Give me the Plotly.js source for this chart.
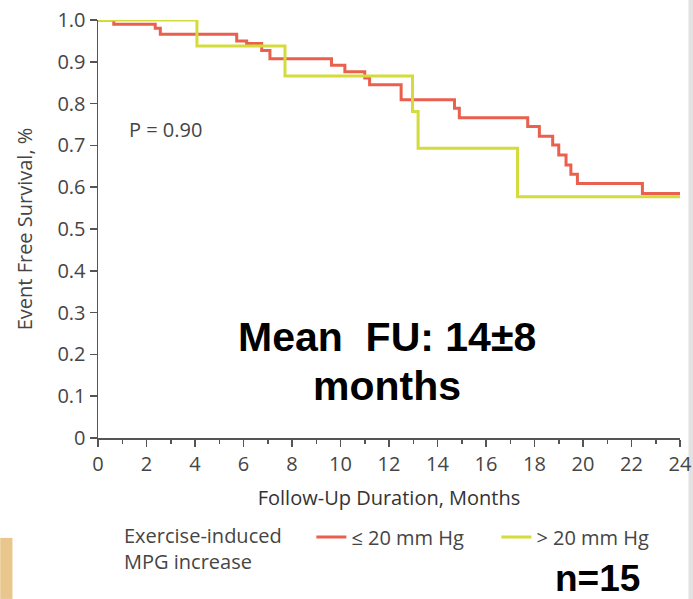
<!DOCTYPE html>
<html>
<head>
<meta charset="utf-8">
<script src="https://cdn.plot.ly/plotly-3.0.1.min.js"></script>
<style>html,body{margin:0;padding:0;background:#fff;}#chart{width:693px;height:599px;}</style>
</head>
<body>
<div id="chart"></div>
<script>
// Kaplan-Meier steps, group <= 20 mm Hg
const lowMonths = [0, 0.65, 2.36, 2.57, 5.72, 6.13, 6.75, 7.09, 9.63, 10.18, 11.0, 11.2, 12.5, 14.7, 14.9, 17.72, 18.2, 18.75, 19.0, 19.3, 19.5, 19.77, 22.45, 24];
const lowSurvival = [1.0, 0.99, 0.98, 0.966, 0.95, 0.944, 0.927, 0.907, 0.892, 0.876, 0.861, 0.845, 0.809, 0.789, 0.766, 0.745, 0.722, 0.701, 0.677, 0.653, 0.631, 0.609, 0.585, 0.585];
// group > 20 mm Hg
const highMonths = [0, 4.08, 7.71, 12.97, 13.2, 17.3, 24];
const highSurvival = [1.0, 0.938, 0.866, 0.781, 0.693, 0.577, 0.577];

const seriesNames = ["\u2264 20 mm Hg", "> 20 mm Hg"];
const yTickVals = [0, 0.1, 0.2, 0.3, 0.4, 0.5, 0.6, 0.7, 0.8, 0.9, 1.0];
const yTickText = ["0", "0.1", "0.2", "0.3", "0.4", "0.5", "0.6", "0.7", "0.8", "0.9", "1.0"];
const xTickVals = [0, 2, 4, 6, 8, 10, 12, 14, 16, 18, 20, 22, 24];

const RED = "#e9604f";
const YEL = "#d3dc3a";
const AXC = "#555555";
const TXT = "#454545";
const FONT = "Open Sans, Noto Sans, sans-serif";
const BOLD = "Liberation Sans, Arial, sans-serif";

const traces = [
  {x: lowMonths, y: lowSurvival, type: "scatter", mode: "lines", name: seriesNames[0],
   line: {color: RED, width: 3, shape: "hv"}, cliponaxis: false},
  {x: highMonths, y: highSurvival, type: "scatter", mode: "lines", name: seriesNames[1],
   line: {color: YEL, width: 3, shape: "hv"}, cliponaxis: false}
];

const layout = {
  width: 693, height: 599,
  margin: {l: 98, r: 12, t: 20, b: 161},
  paper_bgcolor: "#ffffff", plot_bgcolor: "#ffffff",
  font: {family: FONT, size: 20, color: TXT},
  showlegend: true,
  legend: {
    orientation: "h", x: 0.366, xanchor: "left", y: -0.19, yanchor: "top",
    font: {family: FONT, size: 20, color: TXT},
    bgcolor: "rgba(0,0,0,0)", entrywidth: 140, borderwidth: 0
  },
  xaxis: {
    range: [0, 24], tickvals: xTickVals, ticks: "outside", ticklen: 7, tickwidth: 1.5, tickcolor: AXC,
    showline: true, linecolor: AXC, linewidth: 1.5, showgrid: false, zeroline: false,
    tickfont: {family: FONT, size: 20, color: TXT},
    minor: {dtick: 1, ticks: "outside", ticklen: 4, tickwidth: 1.5, tickcolor: AXC, showgrid: false},
    title: {text: "Follow-Up Duration, Months", standoff: 15, font: {family: FONT, size: 20, color: "#333"}}
  },
  yaxis: {
    range: [0, 1.0], tickvals: yTickVals, ticktext: yTickText, ticks: "outside", ticklen: 7, tickwidth: 1.5, tickcolor: AXC,
    showline: true, linecolor: AXC, linewidth: 1.5, showgrid: false, zeroline: false,
    tickfont: {family: FONT, size: 20, color: TXT},
    title: {text: "Event Free Survival, %", standoff: 19, font: {family: FONT, size: 20, color: TXT}}
  },
  annotations: [
    {xref: "x", yref: "y", x: 1.21, y: 0.737, xanchor: "left", yanchor: "middle", showarrow: false,
     text: "P = 0.90", font: {family: FONT, size: 20, color: TXT}},
    {xref: "x", yref: "y", x: 11.9, y: 0.242, xanchor: "center", yanchor: "middle", showarrow: false,
     text: "<b>Mean  FU: 14\u00b18</b>", font: {family: BOLD, size: 41, color: "#000"}},
    {xref: "x", yref: "y", x: 11.9, y: 0.124, xanchor: "center", yanchor: "middle", showarrow: false,
     text: "<b>months</b>", font: {family: BOLD, size: 41, color: "#000"}},
    {xref: "paper", yref: "paper", x: 0.858, y: -0.336, xanchor: "center", yanchor: "middle", showarrow: false,
     text: "<b>n=15</b>", font: {family: BOLD, size: 37, color: "#000"}},
    {xref: "paper", yref: "paper", x: 0.042, y: -0.197, xanchor: "left", yanchor: "top", align: "left", showarrow: false,
     text: "Exercise-induced<br>MPG increase", font: {family: FONT, size: 20, color: TXT}}
  ],
  shapes: [
    {type: "rect", xref: "paper", yref: "paper", x0: -0.168, x1: -0.147, y0: -0.385, y1: -0.239,
     fillcolor: "#e8c68c", line: {width: 0}, layer: "below"},
    {type: "rect", xref: "paper", yref: "paper", x0: 1.0145, x1: 1.025, y0: -0.385, y1: 1.05,
     fillcolor: "#e2e2e2", line: {width: 0}, layer: "below"}
  ]
};

Plotly.newPlot("chart", traces, layout, {displayModeBar: false, staticPlot: true});
</script>
</body>
</html>
